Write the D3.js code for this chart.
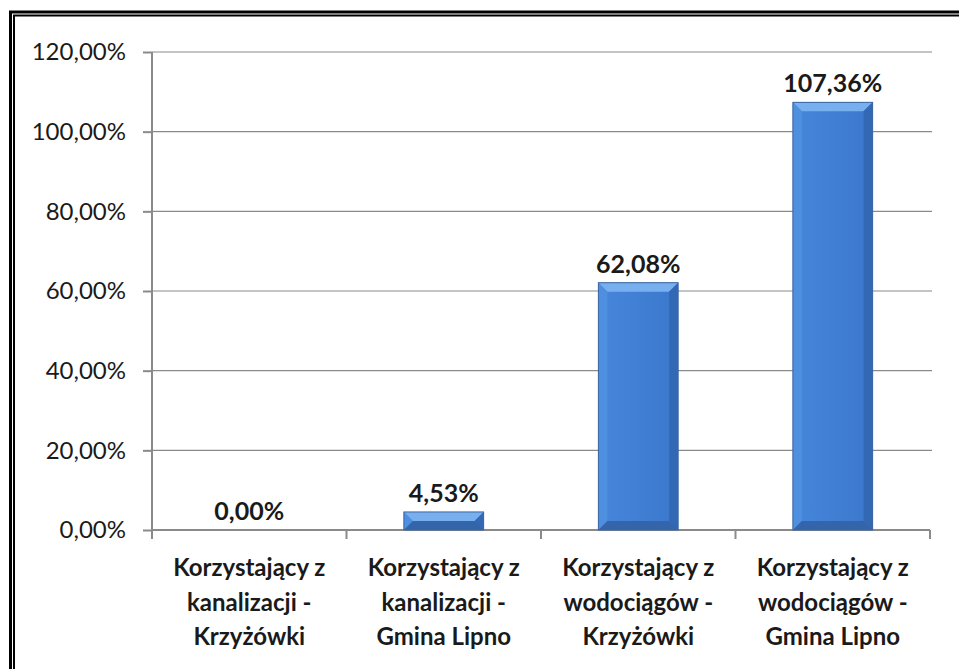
<!DOCTYPE html>
<html>
<head>
<meta charset="utf-8">
<script src="https://cdn.jsdelivr.net/npm/d3@7"></script>
<style>
  body { margin: 0; background: #fff; }
  svg { display: block; }
</style>
</head>
<body>
<div id="chart-area"></div>
<script>
// data
const categories = [
  ["Korzystający z", "kanalizacji -", "Krzyżówki"],
  ["Korzystający z", "kanalizacji -", "Gmina Lipno"],
  ["Korzystający z", "wodociągów -", "Krzyżówki"],
  ["Korzystający z", "wodociągów -", "Gmina Lipno"]
]
const values = [0.00, 4.53, 62.08, 107.36]
const yTicks = [0, 20, 40, 60, 80, 100, 120]

const W = 959, H = 669
const MARGIN = { LEFT: 152, RIGHT: 29, TOP: 52, BOTTOM: 139 }
const WIDTH = W - MARGIN.LEFT - MARGIN.RIGHT
const HEIGHT = H - MARGIN.TOP - MARGIN.BOTTOM
const FONT = "Lato, 'Open Sans', sans-serif"
const fmt = v => v.toFixed(2).replace(".", ",") + "%"

const svg = d3.select("#chart-area").append("svg")
  .attr("width", W)
  .attr("height", H)

// double frame
svg.append("rect")
  .attr("x", 10.5).attr("y", 12)
  .attr("width", 1000).attr("height", 1000)
  .attr("fill", "none").attr("stroke", "#000").attr("stroke-width", 3)
svg.append("rect")
  .attr("x", 14).attr("y", 15.5)
  .attr("width", 1000).attr("height", 1000)
  .attr("fill", "none").attr("stroke", "#000").attr("stroke-width", 2)

const defs = svg.append("defs")
const grad = defs.append("linearGradient").attr("id", "body")
  .attr("x1", "0").attr("x2", "1").attr("y1", "0").attr("y2", "0")
grad.append("stop").attr("offset", "0").attr("stop-color", "#4686db")
grad.append("stop").attr("offset", "1").attr("stop-color", "#3b78cc")

const g = svg.append("g")
  .attr("transform", `translate(${MARGIN.LEFT}, ${MARGIN.TOP})`)

const x = d3.scaleBand()
  .domain(d3.range(values.length))
  .range([0, WIDTH])
  .paddingInner(0.59)
  .paddingOuter(0.295)

const xCat = d3.scaleBand()
  .domain(d3.range(values.length))
  .range([0, WIDTH])

const y = d3.scaleLinear()
  .domain([0, 120])
  .range([HEIGHT, 0])

// gridlines
g.append("g").selectAll("line")
  .data(yTicks.slice(1))
  .enter().append("line")
  .attr("x1", 0).attr("x2", WIDTH + 2)
  .attr("y1", d => y(d)).attr("y2", d => y(d))
  .attr("stroke", "#8a8a8a").attr("stroke-width", 1.2)

// y axis
const yAxis = g.append("g")
  .call(d3.axisLeft(y).tickValues(yTicks).tickSize(9).tickPadding(17).tickFormat(fmt))
yAxis.select(".domain").attr("d", `M0,${y(120)}V${HEIGHT + 9}`)
yAxis.selectAll("path, line").attr("stroke", "#8a8a8a").attr("stroke-width", 2)
yAxis.selectAll("text")
  .attr("font-family", FONT).attr("font-size", "24px").attr("fill", "#1a1a1a")

// x axis
const xAxis = g.append("g")
  .attr("transform", `translate(0, ${HEIGHT})`)
xAxis.append("line")
  .attr("x1", 0).attr("x2", WIDTH)
  .attr("stroke", "#8a8a8a").attr("stroke-width", 2)
xAxis.selectAll(".tk")
  .data(d3.range(1, values.length + 1))
  .enter().append("line")
  .attr("x1", d => d * xCat.step()).attr("x2", d => d * xCat.step())
  .attr("y1", 0).attr("y2", 9)
  .attr("stroke", "#8a8a8a").attr("stroke-width", 2)

// category labels
const cat = xAxis.selectAll(".cat")
  .data(categories)
  .enter().append("text")
  .attr("text-anchor", "middle")
  .attr("font-family", FONT).attr("font-weight", "bold")
  .attr("font-size", "24px").attr("fill", "#1a1a1a")
cat.selectAll("tspan")
  .data((d, i) => d.map(t => ({ t, i })))
  .enter().append("tspan")
  .attr("x", d => xCat(d.i) + xCat.bandwidth() / 2)
  .attr("y", (d, j) => 46 + j * 34.5)
  .text(d => d.t)

// bars with bevel
const bars = g.selectAll(".bar")
  .data(values)
  .enter().append("g")
  .attr("class", "bar")

bars.each(function (v, i) {
  const sel = d3.select(this)
  const x0 = x(i), w = x.bandwidth()
  const y0 = y(v), h = HEIGHT - y0
  if (h <= 0) return
  const b = Math.min(9, h / 2)
  const x1 = x0 + w, y1 = HEIGHT
  sel.append("rect")
    .attr("x", x0).attr("y", y0).attr("width", w).attr("height", h)
    .attr("fill", "url(#body)")
  // top
  sel.append("path")
    .attr("d", `M${x0},${y0}L${x1},${y0}L${x1 - b},${y0 + b}L${x0 + b},${y0 + b}Z`)
    .attr("fill", "#78b0ef")
  // left
  sel.append("path")
    .attr("d", `M${x0},${y0}L${x0 + b},${y0 + b}L${x0 + b},${y1 - b}L${x0},${y1}Z`)
    .attr("fill", "#4f8fe0")
  // right
  sel.append("path")
    .attr("d", `M${x1},${y0}L${x1},${y1}L${x1 - b},${y1 - b}L${x1 - b},${y0 + b}Z`)
    .attr("fill", "#3268b4")
  // bottom
  sel.append("path")
    .attr("d", `M${x0},${y1}L${x0 + b},${y1 - b}L${x1 - b},${y1 - b}L${x1},${y1}Z`)
    .attr("fill", "#3464aa")
  sel.append("rect")
    .attr("x", x0).attr("y", y0).attr("width", w).attr("height", h)
    .attr("fill", "none").attr("stroke", "#3a66a0").attr("stroke-width", 1)
})

// value labels
g.selectAll(".val")
  .data(values)
  .enter().append("text")
  .attr("x", (d, i) => x(i) + x.bandwidth() / 2)
  .attr("y", d => y(d) - 10)
  .attr("text-anchor", "middle")
  .attr("font-family", FONT).attr("font-weight", "bold")
  .attr("font-size", "25px").attr("fill", "#1a1a1a")
  .text(fmt)
</script>
</body>
</html>
